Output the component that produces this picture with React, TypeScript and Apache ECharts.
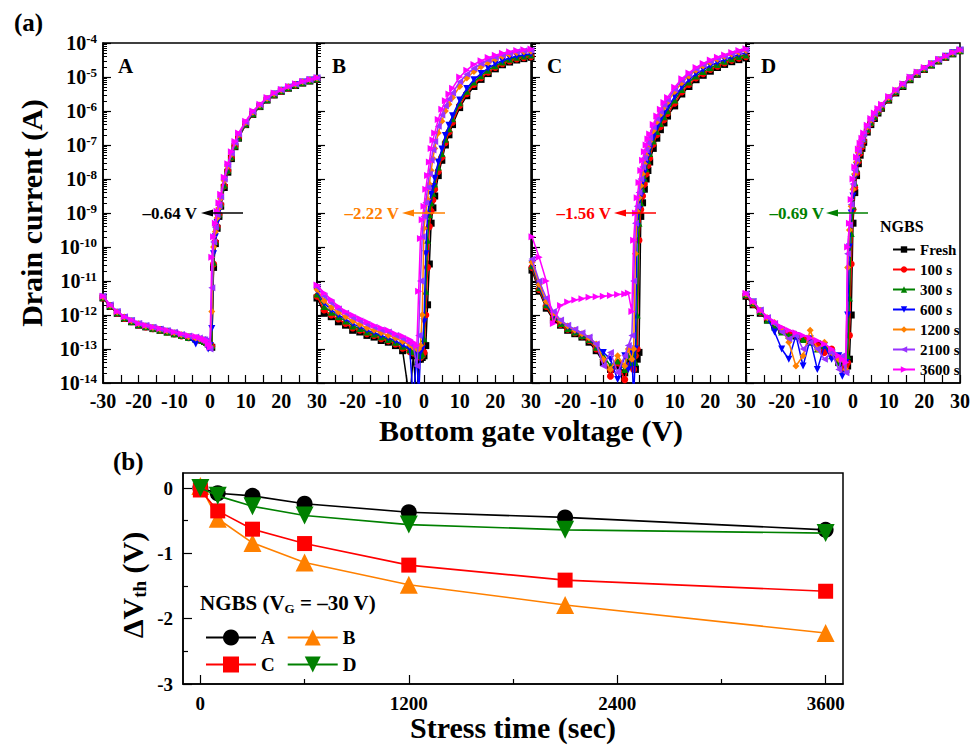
import React, { useEffect, useRef } from 'react';
import * as echarts from 'echarts';

const FONT = "'Liberation Serif','Times New Roman',Times,serif";

// Bottom gate voltage grid (V)
const VG = [-30, -28, -26, -24, -22, -20, -18, -16, -14, -12, -10, -8, -6, -4, -3, -2, -1.5, -1, -0.5, 0,
  0.5, 1, 1.5, 2, 2.5, 3, 4, 5, 6, 7, 8, 10, 12, 14, 16, 18, 20, 22, 24, 26, 28, 30];

const STRESS = ['Fresh', '100 s', '300 s', '600 s', '1200 s', '2100 s', '3600 s'];
const STRESS_COLORS = ['#000000', '#FF0000', '#008000', '#0000FF', '#FF8000', '#9933FF', '#FF00FF'];
const STRESS_SYMBOLS = ['rect', 'circle', 'triangle', 'triangle', 'diamond', 'triangle', 'triangle'];
const STRESS_ROT = [0, 0, 0, 180, 0, 90, -90];

// log10(drain current / A), panel A
const A_FRESH = [-11.5,-11.75,-11.95,-12.1,-12.2,-12.3,-12.35,-12.4,-12.45,-12.5,-12.55,-12.6,-12.65,-12.7,-12.72,-12.75,-12.78,-12.8,-12.85,-12.9,
  -12.95,-10.6,-9.9,-9.45,-9.1,-8.8,-8.25,-7.8,-7.4,-7.05,-6.8,-6.4,-6.1,-5.87,-5.68,-5.53,-5.42,-5.33,-5.25,-5.18,-5.12,-5.07];
const A_100 = [-11.5,-11.74,-11.94,-12.1,-12.2,-12.29,-12.35,-12.4,-12.45,-12.5,-12.56,-12.62,-12.67,-12.72,-12.74,-12.76,-12.78,-12.8,-12.85,-12.9,
  -12.92,-10.5,-9.85,-9.4,-9.05,-8.75,-8.2,-7.76,-7.37,-7.03,-6.78,-6.39,-6.09,-5.86,-5.67,-5.52,-5.41,-5.32,-5.24,-5.17,-5.11,-5.06];
const A_300 = [-11.48,-11.73,-11.93,-12.08,-12.19,-12.28,-12.34,-12.39,-12.44,-12.5,-12.55,-12.6,-12.66,-12.71,-12.73,-12.75,-12.77,-12.8,-12.84,-12.9,
  -12.9,-10.45,-9.82,-9.38,-9.03,-8.73,-8.18,-7.74,-7.35,-7.02,-6.77,-6.38,-6.08,-5.85,-5.66,-5.51,-5.4,-5.31,-5.23,-5.16,-5.1,-5.05];
const A_600 = [-11.47,-11.72,-11.92,-12.07,-12.18,-12.27,-12.33,-12.38,-12.43,-12.48,-12.54,-12.6,-12.66,-12.85,-12.72,-12.74,-12.76,-12.78,-13.0,-12.9,
  -12.4,-10.2,-9.7,-9.28,-8.95,-8.65,-8.1,-7.68,-7.3,-6.98,-6.73,-6.36,-6.06,-5.84,-5.65,-5.5,-5.39,-5.3,-5.22,-5.15,-5.09,-5.04];
const A_1200 = [-11.46,-11.71,-11.91,-12.06,-12.17,-12.26,-12.32,-12.37,-12.42,-12.47,-12.52,-12.58,-12.64,-12.68,-12.7,-12.72,-12.74,-12.77,-12.83,-12.92,
  -11.9,-10.0,-9.55,-9.15,-8.85,-8.58,-8.05,-7.63,-7.27,-6.95,-6.7,-6.34,-6.04,-5.82,-5.63,-5.49,-5.38,-5.29,-5.21,-5.14,-5.08,-5.03];
const A_2100 = [-11.45,-11.7,-11.9,-12.05,-12.16,-12.25,-12.31,-12.36,-12.41,-12.46,-12.51,-12.57,-12.62,-12.65,-12.68,-12.71,-12.73,-12.76,-12.88,-13.0,
  -11.2,-9.85,-9.42,-9.05,-8.78,-8.52,-8.0,-7.59,-7.24,-6.93,-6.68,-6.32,-6.02,-5.81,-5.62,-5.48,-5.38,-5.29,-5.21,-5.14,-5.08,-5.03];
const A_3600 = [-11.45,-11.7,-11.9,-12.05,-12.15,-12.25,-12.3,-12.35,-12.4,-12.45,-12.5,-12.55,-12.6,-12.63,-12.66,-12.7,-12.72,-12.75,-12.85,-12.95,
  -10.3,-9.7,-9.3,-8.95,-8.7,-8.45,-7.95,-7.55,-7.2,-6.9,-6.65,-6.3,-6.0,-5.8,-5.6,-5.47,-5.37,-5.28,-5.2,-5.13,-5.07,-5.02];

// panel B
const B_FRESH = [-11.5,-11.95,-12.05,-12.2,-12.3,-12.45,-12.5,-12.6,-12.65,-12.75,-12.8,-12.9,-13.05,-14.5,-13.2,-14.5,-13.3,-13.3,-13.25,-13.2,
  -12.9,-11.7,-10.5,-9.3,-8.85,-8.5,-7.9,-7.45,-7.0,-6.7,-6.4,-5.9,-5.55,-5.28,-5.07,-4.9,-4.76,-4.64,-4.56,-4.5,-4.46,-4.42];
const B_100 = [-11.45,-11.85,-12.0,-12.12,-12.25,-12.38,-12.45,-12.55,-12.6,-12.7,-12.76,-12.85,-12.98,-13.08,-13.12,-13.18,-13.22,-13.25,-13.2,-13.1,
  -12.0,-10.6,-9.4,-8.95,-8.62,-8.3,-7.78,-7.36,-6.93,-6.62,-6.33,-5.84,-5.49,-5.22,-5.02,-4.86,-4.72,-4.61,-4.53,-4.47,-4.43,-4.4];
const B_300 = [-11.38,-11.75,-11.92,-12.05,-12.18,-12.32,-12.4,-12.5,-12.56,-12.64,-12.72,-12.8,-12.92,-13.02,-13.08,-13.12,-13.18,-13.2,-13.15,-12.7,
  -11.3,-9.8,-9.05,-8.7,-8.42,-8.15,-7.65,-7.25,-6.83,-6.52,-6.23,-5.76,-5.42,-5.15,-4.96,-4.8,-4.67,-4.56,-4.48,-4.42,-4.38,-4.35];
const B_600 = [-11.3,-11.65,-11.85,-12.0,-12.12,-12.26,-12.35,-12.45,-12.52,-12.6,-12.68,-12.76,-12.88,-13.0,-14.5,-13.1,-14.5,-13.1,-13.0,-12.2,
  -10.2,-9.05,-8.7,-8.45,-8.22,-7.98,-7.5,-7.12,-6.72,-6.42,-6.14,-5.68,-5.34,-5.08,-4.9,-4.74,-4.62,-4.52,-4.44,-4.39,-4.35,-4.32];
const B_1200 = [-11.25,-11.58,-11.78,-11.92,-12.05,-12.18,-12.28,-12.38,-12.45,-12.52,-12.6,-12.68,-12.78,-12.88,-12.95,-13.0,-13.0,-12.9,-12.0,-9.45,
  -9.0,-8.6,-8.15,-7.75,-7.4,-7.1,-6.65,-6.3,-6.0,-5.8,-5.6,-5.28,-5.03,-4.84,-4.7,-4.58,-4.48,-4.4,-4.34,-4.29,-4.26,-4.24];
const B_2100 = [-11.18,-11.45,-11.65,-11.82,-11.95,-12.08,-12.18,-12.28,-12.36,-12.44,-12.5,-12.6,-12.7,-12.82,-12.9,-13.5,-12.6,-11.0,-9.7,-9.1,
  -8.7,-8.25,-7.85,-7.45,-7.15,-6.9,-6.45,-6.12,-5.85,-5.65,-5.47,-5.14,-4.92,-4.74,-4.61,-4.5,-4.42,-4.35,-4.3,-4.26,-4.23,-4.21];
const B_3600 = [-11.12,-11.35,-11.55,-11.75,-11.9,-12.0,-12.1,-12.2,-12.3,-12.38,-12.45,-12.55,-12.62,-12.72,-12.8,-12.9,-11.3,-9.75,-9.2,-8.8,
  -8.3,-7.9,-7.5,-7.1,-6.85,-6.65,-6.25,-5.95,-5.7,-5.5,-5.33,-5.0,-4.8,-4.63,-4.52,-4.43,-4.36,-4.3,-4.26,-4.22,-4.2,-4.18];

// panel C
const C_FRESH = [-10.68,-11.3,-11.8,-12.15,-12.3,-12.45,-12.55,-12.65,-12.8,-13.05,-13.4,-13.6,-13.5,-13.7,-13.3,-13.5,-13.2,-13.6,-13.3,-13.1,
  -9.1,-8.7,-8.3,-8.0,-7.75,-7.5,-7.1,-6.8,-6.55,-6.35,-6.15,-5.85,-5.5,-5.28,-5.08,-4.95,-4.83,-4.72,-4.63,-4.55,-4.49,-4.44];
const C_100 = [-10.6,-11.25,-11.75,-12.1,-12.28,-12.42,-12.52,-12.62,-12.75,-13.0,-13.3,-13.8,-13.4,-13.9,-13.5,-13.3,-13.6,-13.2,-13.0,-9.8,
  -8.9,-8.5,-8.15,-7.85,-7.6,-7.38,-6.98,-6.7,-6.46,-6.26,-6.07,-5.77,-5.44,-5.22,-5.03,-4.9,-4.78,-4.68,-4.59,-4.51,-4.45,-4.4];
const C_300 = [-10.55,-11.2,-11.7,-12.05,-12.25,-12.4,-12.5,-12.6,-12.72,-12.95,-13.2,-13.5,-13.35,-13.6,-13.2,-13.4,-13.1,-13.4,-12.0,-9.3,
  -8.7,-8.3,-7.98,-7.7,-7.46,-7.25,-6.88,-6.6,-6.37,-6.17,-5.99,-5.68,-5.37,-5.15,-4.97,-4.84,-4.73,-4.63,-4.54,-4.46,-4.4,-4.35];
const C_600 = [-10.5,-11.15,-11.65,-12.0,-12.2,-12.35,-12.48,-12.58,-12.7,-12.9,-13.1,-13.3,-13.9,-13.2,-13.6,-13.1,-14.5,-13.0,-9.4,-8.9,
  -8.5,-8.1,-7.8,-7.55,-7.32,-7.12,-6.77,-6.5,-6.27,-6.07,-5.9,-5.58,-5.3,-5.08,-4.91,-4.78,-4.67,-4.57,-4.49,-4.41,-4.34,-4.29];
const C_1200 = [-10.45,-11.1,-11.6,-11.95,-12.18,-12.32,-12.45,-12.55,-12.68,-12.85,-13.3,-13.6,-13.2,-13.5,-13.0,-13.3,-13.0,-10.2,-8.95,-8.55,
  -8.2,-7.85,-7.55,-7.3,-7.08,-6.9,-6.58,-6.32,-6.1,-5.9,-5.74,-5.43,-5.17,-4.97,-4.8,-4.68,-4.57,-4.48,-4.4,-4.33,-4.27,-4.22];
const C_2100 = [-10.35,-11.0,-11.5,-11.9,-12.15,-12.3,-12.42,-12.52,-12.65,-12.85,-13.5,-13.1,-13.7,-13.2,-12.9,-12.6,-11.0,-9.3,-8.8,-8.4,
  -8.0,-7.65,-7.38,-7.15,-6.95,-6.78,-6.48,-6.23,-6.02,-5.82,-5.67,-5.36,-5.1,-4.92,-4.76,-4.64,-4.54,-4.45,-4.38,-4.31,-4.25,-4.2];
const C_3600 = [-9.7,-10.3,-11.0,-12.25,-11.72,-11.62,-11.56,-11.52,-11.48,-11.46,-11.45,-11.43,-11.4,-11.38,-11.35,-11.9,-9.8,-9.0,-8.55,-8.1,
  -7.75,-7.45,-7.2,-7.0,-6.82,-6.68,-6.4,-6.15,-5.95,-5.75,-5.6,-5.3,-5.05,-4.88,-4.72,-4.6,-4.5,-4.42,-4.35,-4.28,-4.22,-4.17];

// panel D
const D_FRESH = [-11.45,-11.7,-11.95,-12.15,-12.3,-12.45,-12.55,-12.62,-12.7,-12.78,-12.85,-13.0,-13.1,-13.4,-13.5,-13.6,-13.5,-13.3,-12.0,-9.3,
  -8.4,-7.9,-7.55,-7.3,-7.1,-6.92,-6.62,-6.4,-6.22,-6.06,-5.92,-5.68,-5.47,-5.28,-5.08,-4.92,-4.78,-4.65,-4.53,-4.42,-4.32,-4.23];
const D_100 = [-11.42,-11.68,-11.92,-12.12,-12.28,-12.42,-12.52,-12.6,-12.68,-12.76,-12.9,-13.1,-13.0,-13.3,-13.6,-13.5,-13.4,-12.6,-10.5,-8.9,
  -8.25,-7.82,-7.48,-7.24,-7.05,-6.88,-6.58,-6.37,-6.19,-6.03,-5.9,-5.66,-5.45,-5.26,-5.06,-4.9,-4.77,-4.64,-4.52,-4.41,-4.31,-4.23];
const D_300 = [-11.4,-11.65,-11.9,-12.15,-12.35,-12.5,-12.6,-12.55,-12.72,-12.8,-13.0,-12.9,-13.2,-13.4,-13.3,-13.6,-13.2,-11.5,-9.6,-8.8,
  -8.1,-7.7,-7.38,-7.16,-6.98,-6.82,-6.54,-6.33,-6.16,-6.01,-5.88,-5.64,-5.43,-5.25,-5.05,-4.89,-4.76,-4.63,-4.51,-4.4,-4.3,-4.22];
const D_600 = [-11.4,-11.62,-11.88,-12.1,-12.5,-13.0,-13.3,-12.6,-13.5,-12.7,-13.6,-12.9,-13.3,-13.2,-13.8,-13.4,-12.0,-10.0,-9.0,-8.5,
  -7.95,-7.6,-7.3,-7.1,-6.93,-6.77,-6.5,-6.3,-6.13,-5.98,-5.85,-5.62,-5.42,-5.23,-5.03,-4.88,-4.75,-4.62,-4.5,-4.39,-4.29,-4.21];
const D_1200 = [-11.38,-11.62,-11.86,-12.08,-12.22,-12.4,-12.8,-13.5,-13.2,-12.45,-13.0,-12.8,-13.1,-13.3,-13.3,-13.6,-10.6,-9.5,-8.8,-8.3,
  -7.85,-7.5,-7.22,-7.03,-6.87,-6.72,-6.47,-6.27,-6.1,-5.96,-5.83,-5.6,-5.4,-5.22,-5.02,-4.87,-4.74,-4.61,-4.49,-4.39,-4.29,-4.21];
const D_2100 = [-11.37,-11.6,-11.85,-12.07,-12.25,-12.5,-12.7,-12.6,-13.0,-12.8,-13.0,-13.3,-13.1,-13.6,-13.2,-13.7,-10.2,-9.35,-8.75,-8.15,
  -7.75,-7.42,-7.17,-6.99,-6.83,-6.68,-6.44,-6.24,-6.08,-5.94,-5.81,-5.58,-5.39,-5.21,-5.01,-4.86,-4.73,-4.61,-4.49,-4.38,-4.28,-4.2];
const D_3600 = [-11.36,-11.6,-11.85,-12.05,-12.2,-12.35,-12.45,-12.52,-12.6,-12.68,-12.75,-12.85,-13.0,-13.2,-13.3,-13.4,-10.0,-9.3,-8.6,-8.0,
  -7.65,-7.35,-7.12,-6.95,-6.8,-6.65,-6.42,-6.22,-6.06,-5.93,-5.8,-5.57,-5.38,-5.2,-5.0,-4.85,-4.72,-4.6,-4.48,-4.38,-4.28,-4.2];

const PANELS = ['A', 'B', 'C', 'D'];
const PANEL_DATA = [
  [A_FRESH, A_100, A_300, A_600, A_1200, A_2100, A_3600],
  [B_FRESH, B_100, B_300, B_600, B_1200, B_2100, B_3600],
  [C_FRESH, C_100, C_300, C_600, C_1200, C_2100, C_3600],
  [D_FRESH, D_100, D_300, D_600, D_1200, D_2100, D_3600],
];
const SHIFT_LABELS = ['\u20130.64 V', '\u20132.22 V', '\u20131.56 V', '\u20130.69 V'];
const SHIFT_COLORS = ['#000000', '#FF8000', '#FF0000', '#008000'];

// panel (b): threshold voltage shift vs stress time
const STRESS_TIME = [0, 100, 300, 600, 1200, 2100, 3600];
const DVTH_A = [0, -0.08, -0.12, -0.24, -0.37, -0.45, -0.64];
const DVTH_B = [0.03, -0.47, -0.84, -1.14, -1.48, -1.79, -2.22];
const DVTH_C = [-0.03, -0.35, -0.63, -0.85, -1.18, -1.41, -1.58];
const DVTH_D = [0, -0.12, -0.28, -0.42, -0.56, -0.64, -0.69];
const TIME_TICKS = [0, 1200, 2400, 3600];
const TIME_MINOR = [600, 1800, 3000];

const GRID_LEFTS = [103, 317, 532, 746];
const GRID_W = 214;
const GRID_TOP = 43;
const GRID_H = 340;

function buildOption() {
  const minorLog: number[] = [];
  for (let d = -14; d < -4; d++) for (let k = 2; k <= 9; k++) minorLog.push(d + Math.log10(k));

  const grids: any[] = GRID_LEFTS.map((l) => ({
    left: l, top: GRID_TOP, width: GRID_W, height: GRID_H,
    show: true, borderColor: '#000', borderWidth: 1.5, backgroundColor: 'transparent',
  }));
  grids.push({ left: 183, top: 473, width: 660, height: 211, show: true, borderColor: '#000', borderWidth: 1.5 });

  const axisLine = { show: true, onZero: false, lineStyle: { color: '#000', width: 1.5 } };
  const noLine = { show: false, onZero: false };
  const xAxes: any[] = [];
  const yAxes: any[] = [];
  for (let p = 0; p < 4; p++) {
    xAxes.push({
      type: 'value', gridIndex: p, min: -30, max: 30, interval: 5, position: 'bottom',
      axisLine, splitLine: { show: false },
      axisTick: { show: true, inside: true, length: 8, lineStyle: { color: '#000', width: 1.2 } },
      axisLabel: {
        show: true, margin: 8, color: '#000', fontFamily: FONT, fontWeight: 'bold', fontSize: 20,
        showMinLabel: true, showMaxLabel: true, hideOverlap: false,
        formatter: (v: number) => (Math.round(v) % 10 === 0 && !(p > 0 && v === -30) ? String(v) : ''),
      },
    });
  }
  for (let p = 0; p < 4; p++) {
    yAxes.push({
      type: 'value', gridIndex: p, min: -14, max: -4, interval: 1, position: 'left',
      axisLine, splitLine: { show: false },
      axisTick: { show: true, inside: true, length: 8, lineStyle: { color: '#000', width: 1.2 } },
      axisLabel: {
        show: p === 0, margin: 6, color: '#000',
        formatter: (v: number) => `{b|10}{s|${v}}`,
        rich: {
          b: { fontFamily: FONT, fontWeight: 'bold', fontSize: 20, lineHeight: 22, color: '#000' },
          s: { fontFamily: FONT, fontWeight: 'bold', fontSize: 13, lineHeight: 10, verticalAlign: 'top', color: '#000' },
        },
      },
    });
  }
  for (let p = 0; p < 4; p++) {
    yAxes.push({
      type: 'value', gridIndex: p, min: -14, max: -4, position: 'left',
      axisLine: noLine, splitLine: { show: false }, axisLabel: { show: false },
      axisTick: { show: true, inside: true, length: 4, customValues: minorLog, lineStyle: { color: '#000', width: 1 } },
    });
  }
  // panel (b) axes
  xAxes.push({
    type: 'value', gridIndex: 4, min: -100, max: 3700, position: 'bottom',
    axisLine, splitLine: { show: false },
    axisTick: { show: true, inside: true, length: 9, customValues: TIME_TICKS, lineStyle: { color: '#000', width: 1.2 } },
    axisLabel: {
      show: true, customValues: TIME_TICKS, margin: 10, color: '#000', fontFamily: FONT, fontWeight: 'bold', fontSize: 19,
      formatter: (v: number) => String(v),
    },
  });
  xAxes.push({
    type: 'value', gridIndex: 4, min: -100, max: 3700, position: 'bottom',
    axisLine: noLine, splitLine: { show: false }, axisLabel: { show: false },
    axisTick: { show: true, inside: true, length: 5, customValues: TIME_MINOR, lineStyle: { color: '#000', width: 1.2 } },
  });
  yAxes.push({
    type: 'value', gridIndex: 4, min: -3, max: 0.23, interval: 1, position: 'left',
    axisLine, splitLine: { show: false },
    axisTick: { show: true, inside: true, length: 9, lineStyle: { color: '#000', width: 1.2 } },
    axisLabel: {
      show: true, margin: 10, color: '#000', fontFamily: FONT, fontWeight: 'bold', fontSize: 19, showMaxLabel: false,
      formatter: (v: number) => (Number.isInteger(v) ? String(v) : ''),
    },
  });
  yAxes.push({
    type: 'value', gridIndex: 4, min: -3, max: 0.23, position: 'left',
    axisLine: noLine, splitLine: { show: false }, axisLabel: { show: false },
    axisTick: { show: true, inside: true, length: 5, customValues: [-2.5, -1.5, -0.5], lineStyle: { color: '#000', width: 1.2 } },
  });

  const series: any[] = [];
  for (let p = 0; p < 4; p++) {
    for (let s = 0; s < 7; s++) {
      const arr = PANEL_DATA[p][s];
      series.push({
        type: 'line', name: STRESS[s], xAxisIndex: p, yAxisIndex: p,
        data: VG.slice(0, arr.length).map((v, i) => [v, arr[i]]),
        symbol: STRESS_SYMBOLS[s], symbolRotate: STRESS_ROT[s], symbolSize: 7,
        itemStyle: { color: STRESS_COLORS[s] },
        lineStyle: { color: STRESS_COLORS[s], width: 1.5 },
        clip: true, z: 2 + s, silent: true,
      });
    }
  }
  const bDefs = [
    { name: 'A', data: DVTH_A, color: '#000000', symbol: 'circle', size: 16, rot: 0 },
    { name: 'B', data: DVTH_B, color: '#FF8000', symbol: 'triangle', size: 18, rot: 0 },
    { name: 'C', data: DVTH_C, color: '#FF0000', symbol: 'rect', size: 15, rot: 0 },
    { name: 'D', data: DVTH_D, color: '#008000', symbol: 'triangle', size: 18, rot: 180 },
  ];
  bDefs.forEach((d, k) => {
    series.push({
      type: 'line', name: d.name, xAxisIndex: 4, yAxisIndex: 8,
      data: STRESS_TIME.map((t, i) => [t, d.data[i]]),
      symbol: d.symbol, symbolSize: d.size, symbolRotate: d.rot,
      itemStyle: { color: d.color }, lineStyle: { color: d.color, width: 1.6 }, z: 3 + k,
    });
  });

  const boldText = (size: number) => ({ fontFamily: FONT, fontWeight: 'bold', fontSize: size });
  const graphic: any[] = [
    { type: 'text', x: 14, y: 22, style: { text: '(a)', ...boldText(25), fill: '#000', align: 'left', verticalAlign: 'middle' } },
    { type: 'text', x: 113, y: 461, style: { text: '(b)', ...boldText(25), fill: '#000', align: 'left', verticalAlign: 'middle' } },
    { type: 'text', x: 31, y: 213, rotation: Math.PI / 2, style: { text: 'Drain current (A)', ...boldText(30), fill: '#000', align: 'center', verticalAlign: 'middle' } },
    { type: 'text', x: 531, y: 430, style: { text: 'Bottom gate voltage (V)', ...boldText(30), fill: '#000', align: 'center', verticalAlign: 'middle' } },
    { type: 'text', x: 513, y: 727, style: { text: 'Stress time (sec)', ...boldText(30), fill: '#000', align: 'center', verticalAlign: 'middle' } },
    {
      type: 'text', x: 132, y: 585, rotation: Math.PI / 2,
      style: {
        text: '{t|\u0394V}{u|th}{t| (V)}', align: 'center', verticalAlign: 'middle',
        rich: {
          t: { ...boldText(30), lineHeight: 34, fill: '#000', color: '#000' },
          u: { ...boldText(19), lineHeight: 18, verticalAlign: 'bottom', fill: '#000', color: '#000' },
        },
      },
    },
    { type: 'text', x: 880, y: 226, style: { text: 'NGBS', ...boldText(16), fill: '#000', align: 'left', verticalAlign: 'middle' } },
    {
      type: 'text', x: 200, y: 603,
      style: {
        text: '{t|NGBS (V}{u|G}{t| = \u201330 V)}', align: 'left', verticalAlign: 'middle',
        rich: {
          t: { ...boldText(21), lineHeight: 24, fill: '#000', color: '#000' },
          u: { ...boldText(13), lineHeight: 12, verticalAlign: 'bottom', fill: '#000', color: '#000' },
        },
      },
    },
  ];
  GRID_LEFTS.forEach((l, p) => {
    graphic.push({ type: 'text', x: l + 15, y: 66, style: { text: PANELS[p], ...boldText(21), fill: '#000', align: 'left', verticalAlign: 'middle' } });
  });
  const arrowDefs = [
    { textRight: 197, tip: 201, tail: 243 },
    { textRight: 399, tip: 402, tail: 445 },
    { textRight: 611, tip: 614, tail: 656 },
    { textRight: 824, tip: 826, tail: 868 },
  ];
  arrowDefs.forEach((a, p) => {
    const c = SHIFT_COLORS[p];
    const y = 213;
    graphic.push({ type: 'text', x: a.textRight, y, z: 100, style: { text: SHIFT_LABELS[p], ...boldText(17), fill: c, align: 'right', verticalAlign: 'middle' } });
    graphic.push({ type: 'line', z: 100, shape: { x1: a.tail, y1: y, x2: a.tip + 8, y2: y }, style: { stroke: c, lineWidth: 1.6 } });
    graphic.push({ type: 'polygon', z: 100, shape: { points: [[a.tip, y], [a.tip + 12, y - 3.5], [a.tip + 12, y + 3.5]] }, style: { fill: c } });
  });

  const legendText = (size: number) => ({ fontFamily: FONT, fontWeight: 'bold', fontSize: size, color: '#000' });
  const legend: any[] = [
    {
      data: STRESS, orient: 'vertical', left: 887, top: 237, itemWidth: 22, itemHeight: 8, itemGap: 5,
      textStyle: { ...legendText(15), lineHeight: 15 }, selectedMode: false,
    },
    {
      data: ['A', 'B'], orient: 'horizontal', left: 200, top: 623, itemWidth: 50, itemHeight: 20, itemGap: 12,
      textStyle: { ...legendText(19), lineHeight: 18 }, selectedMode: false,
    },
    {
      data: ['C', 'D'], orient: 'horizontal', left: 200, top: 650, itemWidth: 50, itemHeight: 20, itemGap: 12,
      textStyle: { ...legendText(19), lineHeight: 18 }, selectedMode: false,
    },
  ];

  return {
    animation: false,
    backgroundColor: '#ffffff',
    textStyle: { fontFamily: FONT },
    grid: grids,
    xAxis: xAxes,
    yAxis: yAxes,
    series,
    legend,
    graphic,
  };
}

export default function App() {
  const ref = useRef<HTMLDivElement>(null);
  useEffect(() => {
    if (!ref.current) return;
    const chart = echarts.init(ref.current, null, { renderer: 'svg' });
    chart.setOption(buildOption() as any);
    return () => chart.dispose();
  }, []);
  return <div ref={ref} style={{ position: 'absolute', left: 0, top: 0, width: 977, height: 745 }} />;
}
